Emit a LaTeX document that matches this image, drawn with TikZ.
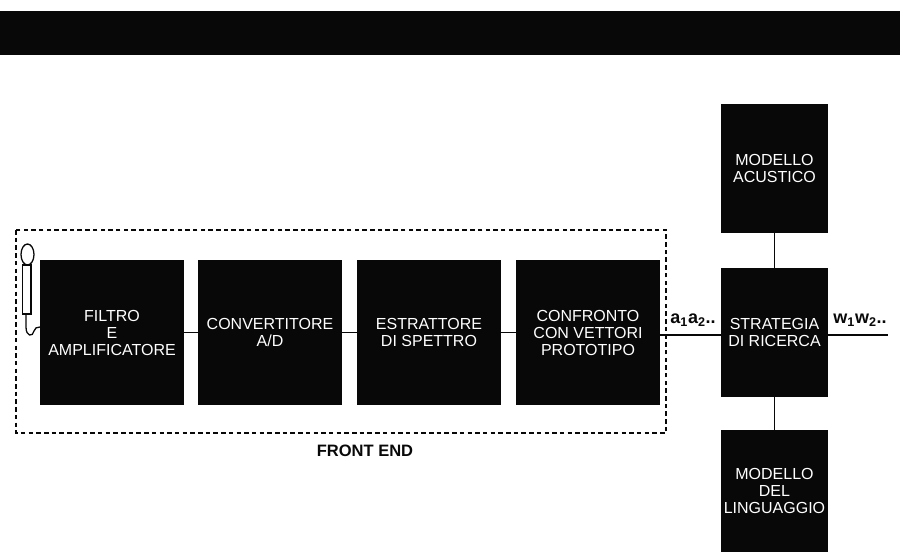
\documentclass[tikz,border=0pt]{standalone}
\usepackage{fontspec}
\setmainfont{Liberation Sans}
\usetikzlibrary{calc}
\definecolor{BoxClr}{rgb}{0.03,0.03,0.03}
\tikzset{
  blockbox/.style={fill=BoxClr,text=white,align=center,inner sep=0pt,
    font=\fontsize{16}{17}\selectfont},
  wirelink/.style={line width=1.8pt,color=BoxClr},
  seqlabel/.style={inner sep=0pt,text=BoxClr,font=\fontsize{18}{20}\selectfont\bfseries}
}

\begin{document}
\begin{tikzpicture}[x=1pt,y=-1pt]
\useasboundingbox (0,0) rectangle (900,559);

\fill[BoxClr] (0,11) rectangle (900,55);

\node[blockbox,minimum width=144pt,minimum height=145pt] (filtro) at (112,332.5) {FILTRO\\E\\AMPLIFICATORE};
\node[blockbox,minimum width=144pt,minimum height=145pt] (convertitore) at (270,332.5) {CONVERTITORE\\A/D};
\node[blockbox,minimum width=144pt,minimum height=145pt] (estrattore) at (429,332.5) {ESTRATTORE\\DI SPETTRO};
\node[blockbox,minimum width=144pt,minimum height=145pt] (confronto) at (588,332.5) {CONFRONTO\\CON VETTORI\\PROTOTIPO};

\node[blockbox,minimum width=107pt,minimum height=129pt] (strategia) at (774.5,332.5) {STRATEGIA\\DI RICERCA};
\node[blockbox,minimum width=107pt,minimum height=129pt] (acustico) at (774.5,168.5) {MODELLO\\ACUSTICO};
\node[blockbox,minimum width=107pt,minimum height=122pt] (linguaggio) at (774.5,491) {MODELLO\\DEL\\LINGUAGGIO};

\coordinate (uscita) at (888,335);

\draw[wirelink] (filtro) -- (convertitore);
\draw[wirelink] (convertitore) -- (estrattore);
\draw[wirelink] (estrattore) -- (confronto);
\draw[wirelink] (confronto.east |- 0,335) -- (strategia.west |- 0,335);
\draw[wirelink] (strategia.east |- uscita) -- (uscita);
\draw[wirelink] (acustico) -- (strategia);
\draw[wirelink] (strategia) -- (linguaggio);

% microfono
\draw[line width=1.3pt,color=BoxClr] (27.5,254.5) ellipse (6.5 and 10.5);
\draw[line width=1.3pt,color=BoxClr,fill=white] (22.5,265) rectangle (31,314);
\draw[line width=1.3pt,color=BoxClr] (26,314) -- (26,327) .. controls (26,337) and (33,337) .. (34,331) .. controls (34.5,328) and (37,327) .. (40,327);

\draw[line width=2.8pt,color=BoxClr,dash pattern=on 4.5pt off 3.2pt] (16,230) rectangle (666,433);

\node[seqlabel,font=\fontsize{16.5}{18}\selectfont\bfseries] (frontend) at (365,451) {FRONT END};
\node[seqlabel] (asequenza) at (693,320) {a$_{\mathbf 1}$a$_{\mathbf 2}$..};
\node[seqlabel] (wsequenza) at (860,320) {w$_{\mathbf 1}$w$_{\mathbf 2}$..};

\end{tikzpicture}
\end{document}
